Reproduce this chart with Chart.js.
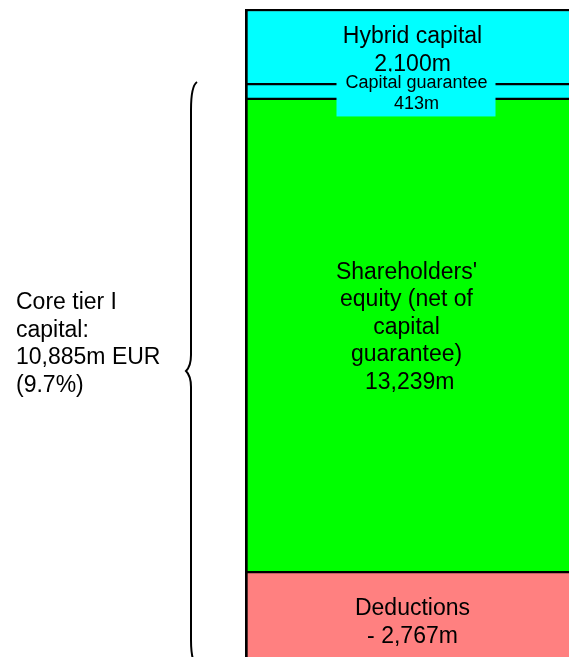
<!DOCTYPE html>
<html>
<head>
<meta charset="utf-8">
<script src="https://cdn.jsdelivr.net/npm/chart.js@4/dist/chart.umd.min.js"></script>
<style>
  html, body { margin: 0; padding: 0; background: #fff; overflow: hidden; }
  #wrap { position: absolute; left: 0; top: 0; }
</style>
</head>
<body>
<div id="wrap"><canvas id="capital-chart" width="580" height="672"></canvas></div>
<script>
// stack order: bottom to top
const segmentNames = ["Deductions", "Shareholders' equity", "Capital guarantee", "Hybrid capital"];
const segmentValues = [2767, 13239, 413, 2100];
const segmentLabels = [
  ["Deductions", "- 2,767m"],
  ["Shareholders'", "equity (net of", "capital", "guarantee)", " 13,239m"],
  ["Capital guarantee", "413m"],
  ["Hybrid capital", "2,100m"]
];
const segmentColors = ["#ff8080", "#00ff00", "#00ffff", "#00ffff"];
const coreLabel = ["Core tier I", "capital:", "10,885m EUR", "(9.7%)"];

const FONT = "'Liberation Sans', Arial, sans-serif";

const datasets = segmentValues.map((v, i) => ({
  label: segmentNames[i],
  data: [v],
  backgroundColor: segmentColors[i],
  borderColor: "#000",
  borderSkipped: false,
  borderWidth: { top: i === segmentValues.length - 1 ? 2.5 : 1.5, bottom: 1.5, left: 3, right: 3 },
  barPercentage: 1,
  categoryPercentage: 1
}));

function drawLines(c, lines, x, firstBase, lh, font) {
  c.font = font;
  lines.forEach((t, i) => c.fillText(t, x, firstBase + i * lh));
}

const labelPlugin = {
  id: "segmentLabels",
  afterDatasetsDraw(chart) {
    const c = chart.ctx;
    c.save();
    c.fillStyle = "#000";
    c.textAlign = "center";
    c.textBaseline = "alphabetic";

    const bars = chart.data.datasets.map((_, i) => chart.getDatasetMeta(i).data[0]);
    const mid = b => (b.y + b.base) / 2;

    // deductions
    let b = bars[0];
    drawLines(c, segmentLabels[0], b.x, mid(b) - 7, 28.4, "23px " + FONT);

    // shareholders' equity
    b = bars[1];
    drawLines(c, segmentLabels[1], b.x - 6, mid(b) - 56.5, 27.5, "23px " + FONT);

    // hybrid capital
    b = bars[3];
    drawLines(c, segmentLabels[3], b.x, mid(b) - 4, 28.2, "23px " + FONT);

    // capital guarantee box over the borders
    b = bars[2];
    const cy = mid(b);
    c.fillStyle = segmentColors[2];
    c.fillRect(b.x - 76, cy - 20, 159, 45);
    c.fillStyle = "#000";
    drawLines(c, segmentLabels[2], b.x + 4, cy - 3, 20.7, "18px " + FONT);

    // brace on the left
    c.strokeStyle = "#000";
    c.lineWidth = 2;
    c.beginPath();
    c.moveTo(197, 82);
    c.quadraticCurveTo(191, 86, 191, 110);
    c.lineTo(191, 355);
    c.quadraticCurveTo(191, 366, 186, 371);
    c.quadraticCurveTo(191, 376, 191, 387);
    c.lineTo(191, 640);
    c.quadraticCurveTo(191, 664, 199, 670);
    c.stroke();

    // core tier text
    c.textAlign = "left";
    drawLines(c, coreLabel, 16, 309.3, 27.4, "23px " + FONT);
    c.restore();
  }
};

new Chart(document.getElementById("capital-chart"), {
  type: "bar",
  data: { labels: [""], datasets: datasets },
  options: {
    responsive: false,
    animation: false,
    layout: { padding: { top: 9, bottom: 1, left: 245, right: 0 } },
    plugins: { legend: { display: false }, tooltip: { enabled: false } },
    scales: {
      x: { stacked: true, display: false },
      y: { stacked: true, display: false, min: 0, max: 18519 }
    }
  },
  plugins: [labelPlugin]
});
</script>
</body>
</html>
